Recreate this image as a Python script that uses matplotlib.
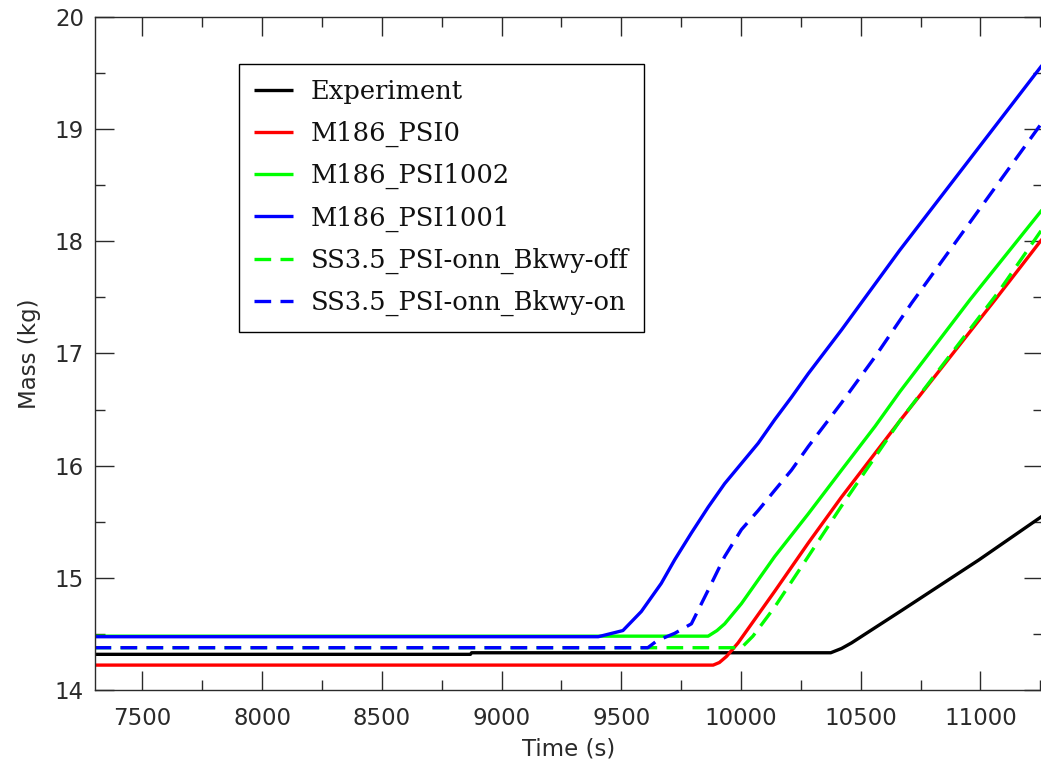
import numpy as np
import matplotlib
matplotlib.use("Agg")
import matplotlib.pyplot as plt
from matplotlib.ticker import MultipleLocator


# mass histories (time in s, mass in kg)
exp_t = [7300, 8870, 8875, 10375, 10420, 10462, 10672, 10994, 11265]
exp_m = [14.318, 14.318, 14.332, 14.332, 14.37, 14.42, 14.71, 15.16, 15.56]

psi0_t = [7300, 9884, 9910, 9940, 9988, 10141, 10281, 10420, 10664, 11062, 11265]
psi0_m = [14.222, 14.222, 14.245, 14.30, 14.42, 14.88, 15.31, 15.72, 16.40, 17.48, 18.04]

psi1002_t = [7300, 9863, 9900, 9932, 10002, 10141, 10281, 10420, 10560, 10664, 10957, 11265]
psi1002_m = [14.48, 14.48, 14.53, 14.59, 14.77, 15.19, 15.57, 15.96, 16.35, 16.66, 17.48, 18.30]

psi1001_t = [7300, 9404, 9507, 9584, 9667, 9723, 9793, 9863, 9932, 10002, 10072,
             10141, 10211, 10281, 10420, 10663, 11265]
psi1001_m = [14.475, 14.475, 14.53, 14.70, 14.95, 15.16, 15.40, 15.63, 15.84, 16.02,
             16.20, 16.41, 16.61, 16.82, 17.21, 17.92, 19.59]

bkwy_off_t = [7300, 10002, 10050, 10141, 10281, 10420, 10664, 11076, 11265]
bkwy_off_m = [14.377, 14.377, 14.48, 14.74, 15.19, 15.64, 16.40, 17.55, 18.13]

bkwy_on_t = [7300, 9611, 9650, 9723, 9793, 9863, 9932, 10002, 10072, 10141, 10211,
             10281, 10420, 10560, 10713, 11265]
bkwy_on_m = [14.377, 14.377, 14.44, 14.505, 14.59, 14.89, 15.19, 15.43, 15.60, 15.78,
             15.96, 16.17, 16.56, 16.97, 17.45, 19.08]

series = [
    ("Experiment", exp_t, exp_m, "black", "-"),
    ("M186_PSI0", psi0_t, psi0_m, "#ff0000", "-"),
    ("M186_PSI1002", psi1002_t, psi1002_m, "#00ff00", "-"),
    ("M186_PSI1001", psi1001_t, psi1001_m, "#0000ff", "-"),
    ("SS3.5_PSI-onn_Bkwy-off", bkwy_off_t, bkwy_off_m, "#00ff00", "--"),
    ("SS3.5_PSI-onn_Bkwy-on", bkwy_on_t, bkwy_on_m, "#0000ff", "--"),
]

W, H = 1041, 773
fig = plt.figure(figsize=(W / 100, H / 100), dpi=100)
ax = fig.add_axes([95 / W, 1 - 690 / H, 1.002 - 95 / W, (690 - 17) / H])

for label, t, m, color, ls in series:
    line, = ax.plot(t, m, color=color, lw=2.4, label=label, solid_capstyle="butt")
    if ls == "--":
        line.set_dashes((5, 2.8))

ax.set_xlim(7302, 11262)
ax.set_ylim(14, 20)
ax.xaxis.set_major_locator(MultipleLocator(500))
ax.xaxis.set_minor_locator(MultipleLocator(250))
ax.yaxis.set_major_locator(MultipleLocator(1))
ax.yaxis.set_minor_locator(MultipleLocator(0.5))

txt = "#2a2a2a"
ax.tick_params(which="both", direction="in", top=True, right=True, color=txt, width=1.0)
ax.tick_params(which="major", length=13.5, labelsize=16.5, labelcolor=txt)
ax.tick_params(which="minor", length=7)
ax.tick_params(axis="x", which="major", pad=12)
ax.tick_params(axis="y", which="major", pad=8)
for s in ax.spines.values():
    s.set_color(txt)
    s.set_linewidth(1.0)

ax.set_xlabel("Time (s)", fontsize=16.5, color=txt, labelpad=6)
ax.set_ylabel("Mass (kg)", fontsize=16.5, color=txt, labelpad=10)

leg = ax.legend(loc="upper left", bbox_to_anchor=(239 / W, 1 - 64 / H),
                bbox_transform=fig.transFigure, borderaxespad=0,
                prop={"family": "DejaVu Serif", "size": 18.5},
                handlelength=1.5, handletextpad=0.7, labelspacing=0.63,
                borderpad=0.6, fancybox=False, framealpha=1, edgecolor="black")
leg.get_frame().set_linewidth(1.0)
for t in leg.get_texts():
    t.set_color("#111111")

fig.savefig("out.png", dpi=100)
